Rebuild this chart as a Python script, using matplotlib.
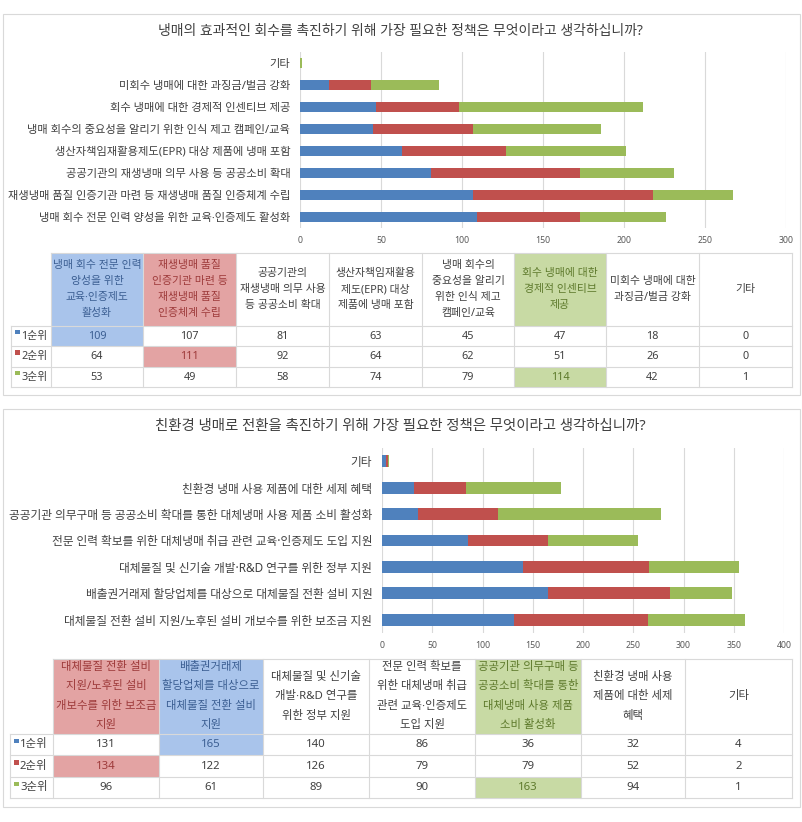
import numpy as np
import matplotlib
matplotlib.use('Agg')
import matplotlib.pyplot as plt
from matplotlib.patches import Rectangle

# Noto Sans first so that the middle dot stays narrow; Hangul falls back to CJK
plt.rcParams['font.family'] = ['Noto Sans', 'Noto Sans CJK KR', 'DejaVu Sans']

W, H = 802, 822
BLUE, RED, GREEN = '#4F81BD', '#C0504D', '#9BBB59'
TXT = '#404040'
GRID = '#D9D9D9'

# ---- data: chart 1 (bottom to top = table order)
cats1 = ['냉매 회수 전문 인력 양성을 위한 교육·인증제도 활성화',
         '재생냉매 품질 인증기관 마련 등 재생냉매 품질 인증체계 수립',
         '공공기관의 재생냉매 의무 사용 등 공공소비 확대',
         '생산자책임재활용제도(EPR) 대상 제품에 냉매 포함',
         '냉매 회수의 중요성을 알리기 위한 인식 제고 캠페인/교육',
         '회수 냉매에 대한 경제적 인센티브 제공',
         '미회수 냉매에 대한 과징금/벌금 강화',
         '기타']
head1 = ['냉매 회수 전문 인력\n양성을 위한\n교육·인증제도\n활성화',
         '재생냉매 품질\n인증기관 마련 등\n재생냉매 품질\n인증체계 수립',
         '공공기관의\n재생냉매 의무 사용\n등 공공소비 확대',
         '생산자책임재활용\n제도(EPR) 대상\n제품에 냉매 포함',
         '냉매 회수의\n중요성을 알리기\n위한 인식 제고\n캠페인/교육',
         '회수 냉매에 대한\n경제적 인센티브\n제공',
         '미회수 냉매에 대한\n과징금/벌금 강화',
         '기타']
rank1_1 = [109, 107, 81, 63, 45, 47, 18, 0]
rank2_1 = [64, 111, 92, 64, 62, 51, 26, 0]
rank3_1 = [53, 49, 58, 74, 79, 114, 42, 1]

# ---- data: chart 2
cats2 = ['대체물질 전환 설비 지원/노후된 설비 개보수를 위한 보조금 지원',
         '배출권거래제 할당업체를 대상으로 대체물질 전환 설비 지원',
         '대체물질 및 신기술 개발·R&D 연구를 위한 정부 지원',
         '전문 인력 확보를 위한 대체냉매 취급 관련 교육·인증제도 도입 지원',
         '공공기관 의무구매 등 공공소비 확대를 통한 대체냉매 사용 제품 소비 활성화',
         '친환경 냉매 사용 제품에 대한 세제 혜택',
         '기타']
head2 = ['대체물질 전환 설비\n지원/노후된 설비\n개보수를 위한 보조금\n지원',
         '배출권거래제\n할당업체를 대상으로\n대체물질 전환 설비\n지원',
         '대체물질 및 신기술\n개발·R&D 연구를\n위한 정부 지원',
         '전문 인력 확보를\n위한 대체냉매 취급\n관련 교육·인증제도\n도입 지원',
         '공공기관 의무구매 등\n공공소비 확대를 통한\n대체냉매 사용 제품\n소비 활성화',
         '친환경 냉매 사용\n제품에 대한 세제\n혜택',
         '기타']
rank1_2 = [131, 165, 140, 86, 36, 32, 4]
rank2_2 = [134, 122, 126, 79, 79, 52, 2]
rank3_2 = [96, 61, 89, 90, 163, 94, 1]

ranks = ['1순위', '2순위', '3순위']

fig = plt.figure(figsize=(W / 100, H / 100), dpi=100)
ov = fig.add_axes([0, 0, 1, 1], zorder=0)
ov.set_xlim(0, W)
ov.set_ylim(H, 0)
ov.axis('off')


def px_axes(x0, y0, x1, y1):
    return fig.add_axes([x0 / W, 1 - y1 / H, (x1 - x0) / W, (y1 - y0) / H], zorder=1)


def bar_chart(box, cats, vals, xmax, step, fs):
    ax = px_axes(*box)
    ax.set_facecolor('none')
    y = np.arange(len(cats))
    left = np.zeros(len(cats))
    for v, c in zip(vals, [BLUE, RED, GREEN]):
        ax.barh(y, v, left=left, color=c, height=0.45, zorder=2)
        left = left + np.array(v)
    ax.set_xlim(0, xmax)
    ax.set_ylim(-0.5, len(cats) - 0.5)
    ax.set_xticks(np.arange(0, xmax + 1, step))
    ax.set_yticks(y)
    ax.set_yticklabels(cats, fontsize=fs, color=TXT)
    ax.tick_params(axis='x', length=0, labelsize=6.3, labelcolor='#595959', pad=6)
    ax.tick_params(axis='y', length=0, pad=7)
    ax.xaxis.grid(True, color=GRID, lw=0.8, zorder=0)
    for s in ax.spines.values():
        s.set_visible(False)
    return ax


def table(top, hbot, rows, cols, lab_left, heads, data, hl, line_h, fs=7.8):
    # highlight fills: (col, [rows]) with row -1 = header
    fill = {'b': ('#A9C4EB', '#3C5F93'), 'r': ('#E3A3A3', '#9E3B3B'), 'g': ('#C8DAA4', '#5E7A2C')}
    ys = [top, hbot] + rows
    for ci, rlist, key in hl:
        for r in rlist:
            ov.add_patch(Rectangle((cols[ci], ys[r + 1]), cols[ci + 1] - cols[ci],
                                   ys[r + 2] - ys[r + 1], color=fill[key][0], lw=0))
    colors = {}
    for ci, rlist, key in hl:
        for r in rlist:
            colors[(ci, r)] = fill[key][1]
    # grid
    ov.plot([cols[0], cols[-1]], [top, top], color=GRID, lw=0.8)
    for yy in ys[1:]:
        ov.plot([lab_left, cols[-1]], [yy, yy], color=GRID, lw=0.8)
    for xx in cols:
        ov.plot([xx, xx], [top, ys[-1]], color=GRID, lw=0.8)
    ov.plot([lab_left, lab_left], [hbot, ys[-1]], color=GRID, lw=0.8)
    # headers
    for ci, h in enumerate(heads):
        lines = h.split('\n')
        cx = (cols[ci] + cols[ci + 1]) / 2
        cy = (top + hbot) / 2
        n = len(lines)
        for li, t in enumerate(lines):
            ov.text(cx, cy + (li - (n - 1) / 2) * line_h, t, ha='center', va='center',
                    fontsize=fs, color=colors.get((ci, -1), TXT))
    # body
    for ri, row in enumerate(data):
        cy = (ys[ri + 1] + ys[ri + 2]) / 2
        ov.add_patch(Rectangle((lab_left + 4, cy - 6), 4.5, 4.5, color=[BLUE, RED, GREEN][ri], lw=0))
        ov.text(lab_left + 10, cy, ranks[ri], ha='left', va='center', fontsize=fs, color=TXT)
        for ci, v in enumerate(row):
            cx = (cols[ci] + cols[ci + 1]) / 2
            ov.text(cx, cy, str(v), ha='center', va='center', fontsize=fs,
                    color=colors.get((ci, ri), TXT))


# panel borders
ov.add_patch(Rectangle((3, 14), 797, 381, fill=False, ec=GRID, lw=0.8))
ov.add_patch(Rectangle((3, 409), 797, 398, fill=False, ec=GRID, lw=0.8))

# ---- panel 1
ov.text(400, 32, '냉매의 효과적인 회수를 촉진하기 위해 가장 필요한 정책은 무엇이라고 생각하십니까?',
        ha='center', va='center', fontsize=10, color=TXT)
bar_chart((300, 52, 786, 228), cats1, [rank1_1, rank2_1, rank3_1], 300, 50, 8.1)
table(253, 326, [346, 367, 387],
      [51, 143, 236, 329, 422, 514, 606, 699, 792], 11, head1,
      [rank1_1, rank2_1, rank3_1],
      [(0, [-1, 0], 'b'), (1, [-1], 'r'), (1, [1], 'r'), (5, [-1], 'g'), (5, [2], 'g')], 16)

# ---- panel 2
ov.text(400, 426, '친환경 냉매로 전환을 촉진하기 위해 가장 필요한 정책은 무엇이라고 생각하십니까?',
        ha='center', va='center', fontsize=10.4, color=TXT)
bar_chart((382, 448, 784, 633), cats2, [rank1_2, rank2_2, rank3_2], 400, 50, 8.45)
table(659, 734, [755, 777, 798],
      [53, 159, 263, 369, 475, 581, 685, 792], 10, head2,
      [rank1_2, rank2_2, rank3_2],
      [(0, [-1], 'r'), (0, [1], 'r'), (1, [-1, 0], 'b'), (4, [-1], 'g'), (4, [2], 'g')], 19.5,
      fs=8.2)

fig.savefig('out.png', dpi=100, facecolor='white')
